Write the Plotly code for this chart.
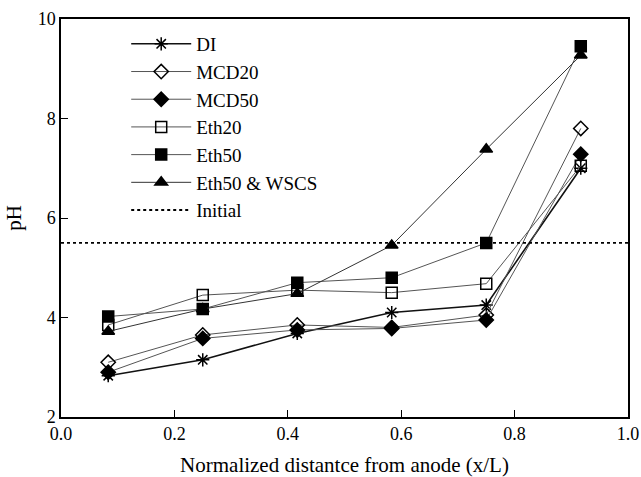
import plotly.graph_objects as go

x = [0.0833, 0.25, 0.4167, 0.5833, 0.75, 0.9167]
di = [2.83, 3.15, 3.68, 4.10, 4.25, 7.00]
mcd20 = [3.10, 3.65, 3.85, 3.80, 4.05, 7.80]
mcd50 = [2.90, 3.58, 3.75, 3.78, 3.95, 7.28]
eth20 = [3.85, 4.45, 4.55, 4.50, 4.68, 7.05]
eth50 = [4.02, 4.17, 4.70, 4.80, 5.50, 9.45]
eth50_wscs = [3.72, 4.17, 4.48, 5.45, 7.38, 9.27]
initial_ph = 5.5
names = ["DI", "MCD20", "MCD50", "Eth20", "Eth50", "Eth50 & WSCS"]

series = [di, mcd20, mcd50, eth20, eth50, eth50_wscs]
symbols = ["asterisk-open", "diamond-open", "diamond", "square-open", "square", "triangle-up"]
line_colors = ["#111111", "#555555", "#555555", "#555555", "#555555", "#333333"]
widths = [1.6, 1.0, 1.0, 1.0, 1.0, 1.0]

FONT = "'Liberation Serif', 'DejaVu Serif', serif"

fig = go.Figure()
for i, (nm, ys, sym, lc, w) in enumerate(zip(names, series, symbols, line_colors, widths)):
    fig.add_trace(go.Scatter(
        x=x, y=ys, name=nm, mode="lines+markers",
        line=dict(color=lc, width=w),
        marker=dict(symbol=sym, size=11, color="black",
                    line=dict(color="black", width=1.5)),
        legendgroup=f"g{i}",
    ))
fig.add_trace(go.Scatter(
    x=[0, 1], y=[initial_ph, initial_ph], name="Initial", mode="lines",
    line=dict(color="black", width=1.8, dash="dot"), legendgroup="g7",
))

fig.update_layout(
    width=641, height=477,
    margin=dict(l=61, r=13, t=19, b=60),
    paper_bgcolor="white", plot_bgcolor="white",
    font=dict(family=FONT, color="black", size=18),
    showlegend=True,
    legend=dict(x=0.115, y=0.985, xanchor="left", yanchor="top",
                bgcolor="rgba(0,0,0,0)", font=dict(family=FONT, size=19),
                tracegroupgap=0, itemwidth=60),
    xaxis=dict(range=[0, 1], tickvals=[0, 0.2, 0.4, 0.6, 0.8, 1.0],
               ticktext=["0.0", "0.2", "0.4", "0.6", "0.8", "1.0"],
               ticks="inside", ticklen=7, tickcolor="black",
               ticklabeloverflow="allow",
               showline=True, linecolor="black", linewidth=1.5, mirror=True,
               showgrid=False, zeroline=False, automargin=False,
               title=dict(text="Normalized distantce from anode (x/L)", font=dict(family=FONT, size=21), standoff=14)),
    yaxis=dict(range=[2, 10], tickvals=[2, 4, 6, 8, 10],
               ticks="inside", ticklen=7, tickcolor="black",
               showline=True, linecolor="black", linewidth=1.5, mirror=True,
               showgrid=False, zeroline=False, automargin=False,
               title=dict(text="pH", font=dict(family=FONT, size=21), standoff=10)),
)

fig.write_html("out.html")
